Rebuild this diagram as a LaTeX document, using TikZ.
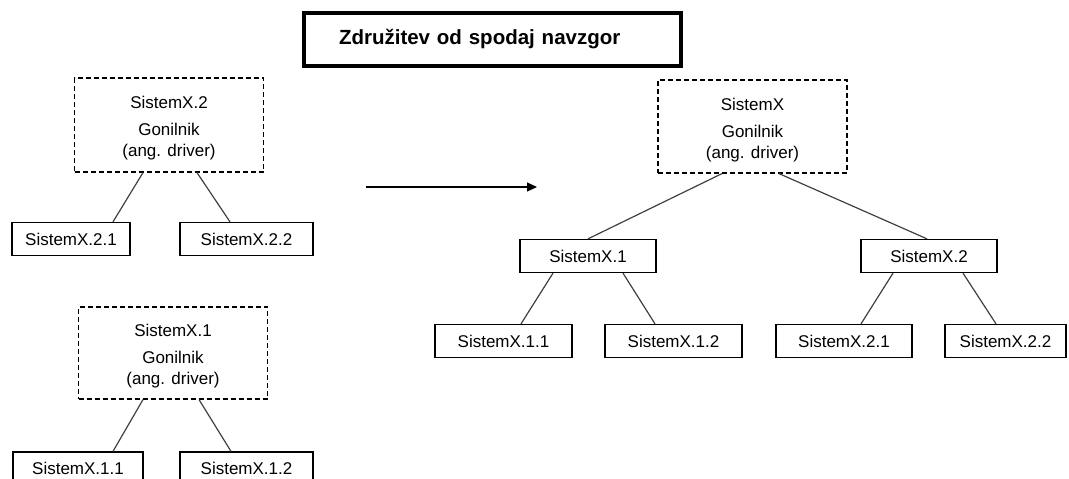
\documentclass[tikz,border=0pt]{standalone}
\usepackage{fontspec}
\setmainfont{Liberation Sans}
\usetikzlibrary{arrows.meta,calc}
\newcommand{\topgap}{\rule{0pt}{19pt}}
\begin{document}
\begin{tikzpicture}[x=1pt,y=-1pt,
  every node/.style={font=\fontsize{17}{21}\selectfont, inner sep=0pt},
  leaf/.style={draw, line width=1.3pt, minimum height=33pt},
  driver/.style={draw, line width=1.2pt, dash pattern=on 5pt off 3pt,
    minimum width=189pt, align=center},
  link/.style={draw=black!75, line width=1.2pt},
  titlebox/.style={draw, line width=4pt, inner xsep=35pt, text width=307pt,
    minimum height=53pt, align=left, font=\fontsize{20.5}{24}\bfseries\selectfont}]
\useasboundingbox (0,0) rectangle (1069,479);
\clip (0,0) rectangle (1069,479);

% heading
\node[titlebox] (title) at (492.5,39.5) {Združitev od spodaj navzgor};

% first partial tree (SistemX.2)
\node[driver, minimum height=94pt] (p2) at (169,125)
  {\topgap SistemX.2\\[6pt]Gonilnik\\(ang. driver)};
\node[leaf, minimum width=118pt] (c21) at (71,239) {SistemX.2.1};
\node[leaf, minimum width=133pt] (c22) at (246.5,239) {SistemX.2.2};
\draw[link] ([xshift=-26pt]p2.south) -- ([xshift=42pt]c21.north);
\draw[link] ([xshift=28pt]p2.south) -- ([xshift=-16.5pt]c22.north);

% second partial tree (SistemX.1)
\node[driver, minimum height=92pt] (p1) at (173,353)
  {\topgap SistemX.1\\[6pt]Gonilnik\\(ang. driver)};
\node[leaf, minimum width=130pt] (c11) at (78,468.5) {SistemX.1.1};
\node[leaf, minimum width=133pt] (c12) at (246.5,468.5) {SistemX.1.2};
\draw[link] ([xshift=-30pt]p1.south) -- ([xshift=35pt]c11.north);
\draw[link] ([xshift=26pt]p1.south) -- ([xshift=-15.5pt]c12.north);

% merge arrow
\coordinate (a0) at (366,187);
\coordinate (a1) at (537,187);
\draw[line width=1.2pt, -{Triangle[length=10pt,width=9pt]}] (a0) -- (a1);

% combined tree
\node[driver, minimum height=93pt] (root) at (752.5,126.5)
  {\topgap SistemX\\[6pt]Gonilnik\\(ang. driver)};
\node[leaf, minimum width=136pt] (r1) at (588,256) {SistemX.1};
\node[leaf, minimum width=136pt] (r2) at (929,256) {SistemX.2};
\node[leaf, minimum width=137pt] (r11) at (503.5,341) {SistemX.1.1};
\node[leaf, minimum width=137pt] (r12) at (673.5,341) {SistemX.1.2};
\node[leaf, minimum width=136pt] (r21) at (844,341) {SistemX.2.1};
\node[leaf, minimum width=121pt] (r22) at (1005.5,341) {SistemX.2.2};
\draw[link] ([xshift=-30.5pt]root.south) -- (r1.north);
\draw[link] ([xshift=26.5pt]root.south) -- ([xshift=-2pt]r2.north);
\draw[link] ([xshift=-35pt]r1.south) -- ([xshift=17.5pt]r11.north);
\draw[link] ([xshift=35pt]r1.south) -- ([xshift=-18.5pt]r12.north);
\draw[link] ([xshift=-36pt]r2.south) -- ([xshift=17pt]r21.north);
\draw[link] ([xshift=34pt]r2.south) -- ([xshift=-9.5pt]r22.north);
\end{tikzpicture}
\end{document}
